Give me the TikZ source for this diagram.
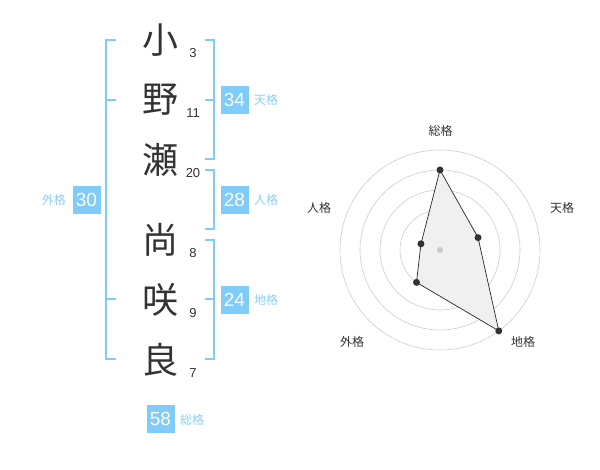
\documentclass[tikz,border=0pt]{standalone}
\usepackage{fontspec}
\setmainfont{Liberation Sans}
\newfontfamily\jpfont{Noto Sans CJK JP}
\usepackage{xcolor}
\usetikzlibrary{calc}
\definecolor{kakublue}{RGB}{128,204,248}
\definecolor{kakutext}{RGB}{140,206,245}
\definecolor{inkgray}{RGB}{51,51,51}

\begin{document}
\begin{tikzpicture}[x=1pt,y=-1pt,
  kanji/.style={font=\jpfont\fontsize{36}{36}\selectfont, text=inkgray, inner sep=0pt},
  strokes/.style={font=\fontsize{13}{13}\selectfont, text=inkgray, inner sep=0pt},
  valbox/.style={fill=kakublue, text=white, font=\fontsize{19}{19}\selectfont,
    minimum width=28pt, minimum height=28pt, inner sep=0pt},
  kakulabel/.style={font=\jpfont\fontsize{12}{12}\selectfont, text=kakutext, inner sep=0pt},
  bracket/.style={draw=kakublue, line width=1.5pt},
  ring/.style={draw=black!20, line width=0.6pt},
  axislabel/.style={font=\jpfont\fontsize{12}{12}\selectfont, text=inkgray, inner sep=0pt},
  dot/.style={circle, fill=inkgray, inner sep=0pt, minimum size=7pt}]
\useasboundingbox (0,0) rectangle (600,470);

% name characters and stroke counts
\node[kanji] (k1) at (160,40) {小};
\node[kanji] (k2) at (160,100) {野};
\node[kanji] (k3) at (160,160) {瀬};
\node[kanji] (k4) at (160,240) {尚};
\node[kanji] (k5) at (160,300) {咲};
\node[kanji] (k6) at (160,360) {良};
\node[strokes] (s1) at (193,53) {3};
\node[strokes] (s2) at (193,113) {11};
\node[strokes] (s3) at (193,173) {20};
\node[strokes] (s4) at (193,253) {8};
\node[strokes] (s5) at (193,313) {9};
\node[strokes] (s6) at (193,373) {7};

% brackets
\draw[bracket] (116,40) -| (106,359) -- (116,359);
\draw[bracket] (106,100) -- (116,100);
\draw[bracket] (106,299) -- (116,299);
\draw[bracket] (205,40) -| (214,159) -- (205,159);
\draw[bracket] (205,100) -- (214,100);
\draw[bracket] (205,170) -| (214,229) -- (205,229);
\draw[bracket] (205,240) -| (214,359) -- (205,359);
\draw[bracket] (205,299) -- (214,299);

% values
\node[valbox] (ten) at (234.5,100) {34};
\node[kakulabel, anchor=west] (tenlab) at (254,100) {天格};
\node[valbox] (jin) at (234.5,200) {28};
\node[kakulabel, anchor=west] (jinlab) at (254,200) {人格};
\node[valbox] (chi) at (234.5,300) {24};
\node[kakulabel, anchor=west] (chilab) at (254,300) {地格};
\node[valbox] (gai) at (86.5,200) {30};
\node[kakulabel, anchor=east] (gailab) at (66,200) {外格};
\node[valbox] (sou) at (160.5,419) {58};
\node[kakulabel, anchor=west] (soulab) at (180,420) {総格};

% radar chart
\coordinate (c) at (440,250);
\foreach \r in {20,40,60,80,100}
  \draw[ring] (c) circle (\r);
\coordinate (p1) at ($(c)+(-90:80)$);
\coordinate (p2) at ($(c)+(-18:40)$);
\coordinate (p3) at ($(c)+(54:100)$);
\coordinate (p4) at ($(c)+(126:40)$);
\coordinate (p5) at ($(c)+(198:20)$);
\fill[black!6] (p1) -- (p2) -- (p3) -- (p4) -- (p5) -- cycle;
\draw[black!85, line width=0.7pt] (p1) -- (p2) -- (p3) -- (p4) -- (p5) -- cycle;
\fill[black!22] (c) circle (3);
\foreach \i in {1,...,5}
  \node[dot] at (p\i) {};
\node[axislabel] (a1) at (440.5,130.5) {総格};
\node[axislabel] (a2) at (562,208) {天格};
\node[axislabel] (a3) at (523,342) {地格};
\node[axislabel] (a4) at (352,342) {外格};
\node[axislabel] (a5) at (319,208) {人格};
\end{tikzpicture}
\end{document}
